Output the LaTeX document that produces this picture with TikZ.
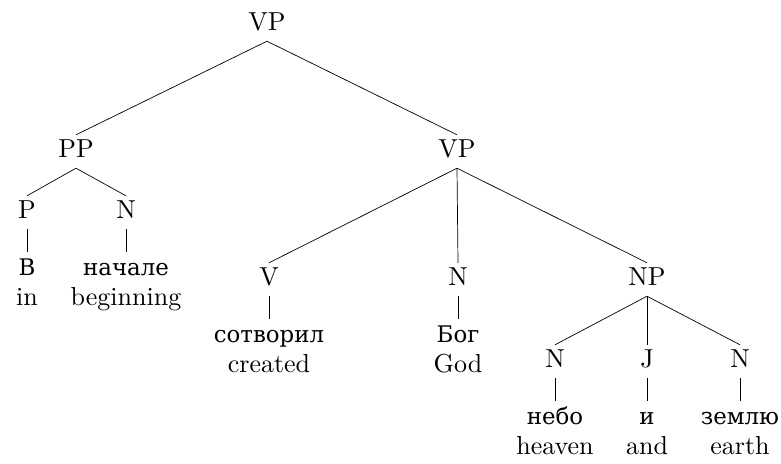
\documentclass[tikz,border=0pt]{standalone}
\usepackage{fontspec}
\setmainfont{lmroman10-regular.otf}
\newfontfamily\rusfont{DejaVu Serif}[Scale=0.88]
\begin{document}
\begin{tikzpicture}[x=1pt,y=-1pt,
  font=\fontsize{26}{30}\selectfont,
  cat/.style={text height=17pt, text depth=6pt, inner ysep=5pt, inner xsep=0pt, anchor=base},
  leaf/.style={align=center, inner ysep=6pt, inner xsep=0pt, anchor=north},
  edge/.style={line width=0.7pt, black}]
\useasboundingbox (0,0) rectangle (781,463);
% phrase labels
\node[cat] (vp0) at (267,30) {VP};
\node[cat] (pp)  at (76,157) {PP};
\node[cat] (vp1) at (457,157) {VP};
\node[cat] (p)   at (27,218) {P};
\node[cat] (n1)  at (126,218) {N};
\node[cat] (v)   at (269,285) {V};
\node[cat] (n2)  at (458,285) {N};
\node[cat] (np)  at (647,285) {NP};
\node[cat] (n3)  at (555,367) {N};
\node[cat] (j)   at (647,367) {J};
\node[cat] (n4)  at (740,367) {N};
% leaves
\node[leaf] (w1) at (27,252)  {{\rusfont\rule{0pt}{17pt}В}\\in};
\node[leaf] (w2) at (126,252) {{\rusfont\rule{0pt}{17pt}начале}\\beginning};
\node[leaf] (w3) at (269,319) {{\rusfont\rule{0pt}{17pt}сотворил}\\created};
\node[leaf] (w4) at (458,319) {{\rusfont\rule{0pt}{17pt}Бог}\\God};
\node[leaf] (w5) at (555,401) {{\rusfont\rule{0pt}{17pt}небо}\\heaven};
\node[leaf] (w6) at (647,401) {{\rusfont\rule{0pt}{17pt}и}\\and};
\node[leaf] (w7) at (740,401) {{\rusfont\rule{0pt}{17pt}землю}\\earth};
% branches
\draw[edge] (vp0.south) -- (pp.north);
\draw[edge] (vp0.south) -- (vp1.north);
\draw[edge] (pp.south) -- (p.north);
\draw[edge] (pp.south) -- (n1.north);
\draw[edge] (vp1.south) -- (v.north);
\draw[edge] (vp1.south) -- (n2.north);
\draw[edge] (vp1.south) -- (np.north);
\draw[edge] (np.south) -- (n3.north);
\draw[edge] (np.south) -- (j.north);
\draw[edge] (np.south) -- (n4.north);
\draw[edge] (p.south) -- (w1.north);
\draw[edge] (n1.south) -- (w2.north);
\draw[edge] (v.south) -- (w3.north);
\draw[edge] (n2.south) -- (w4.north);
\draw[edge] (n3.south) -- (w5.north);
\draw[edge] (j.south) -- (w6.north);
\draw[edge] (n4.south) -- (w7.north);
\end{tikzpicture}
\end{document}
